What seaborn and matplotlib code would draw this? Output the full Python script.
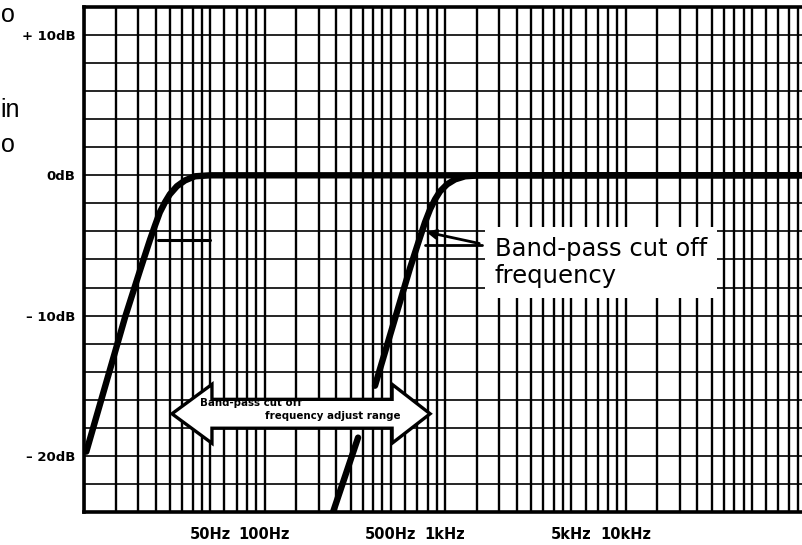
import numpy as np
import pandas as pd
import matplotlib
matplotlib.use("Agg")
import matplotlib.pyplot as plt
from matplotlib.patches import Polygon
import seaborn as sns

# curve: low band-pass setting
low_freq = [10.3, 16.9, 20.4, 23.2, 24.7, 26.3, 28.1, 29.9, 32.7, 36.3, 41.2, 49.9, 96000]
low_db = [-19.7, -10.1, -6.8, -4.6, -3.6, -2.64, -1.92, -1.35, -0.78, -0.36, -0.07, 0.0, 0.0]

# high band-pass setting (line is broken where the range arrow sits)
high_freq_lower = [239.6, 329.6]
high_db_lower = [-24.0, -18.7]
high_freq = [409, 640, 727, 774, 826, 880, 938, 1026, 1136, 1291, 1563, 96000]
high_db = [-15.0, -6.6, -4.4, -3.35, -2.42, -1.71, -1.14, -0.64, -0.29, -0.07, 0.0, 0.0]

# axis labels
x_ticks = [50, 100, 500, 1000, 5000, 10000]
x_labels = ["50Hz", "100Hz", "500Hz", "1kHz", "5kHz", "10kHz"]
y_ticks = [-20, -10, 0, 10]
y_labels = ["\u2013 20dB", "\u2013 10dB", "0dB", "+ 10dB"]

# adjust range arrow ends (Hz) and level (dB)
range_lo, range_hi, range_db = 30.7, 826, -17.0

sns.set_style("white")
plt.rcParams["font.family"] = ["DejaVu Sans"]
plt.rcParams["text.color"] = "black"

fig = plt.figure(figsize=(8.03, 5.45), dpi=100)
ax = fig.add_axes([0.1046, 0.0606, 0.8954, 0.9266])
ax.set_xscale("log")
ax.set_xlim(10, 96000)
ax.set_ylim(-24, 12)

# log paper grid
mults = [1, 1.5, 2, 2.5, 3, 3.5, 4, 4.5, 5, 6, 7, 8, 9]
for dec in [10, 100, 1000, 10000]:
    for m in mults:
        ax.axvline(dec * m, color="black", lw=1.7, zorder=1)
for lev in range(-22, 12, 2):
    ax.axhline(lev, color="black", lw=1.2, zorder=1)

df_low = pd.DataFrame({"f": low_freq, "db": low_db})
df_hl = pd.DataFrame({"f": high_freq_lower, "db": high_db_lower})
df_hi = pd.DataFrame({"f": high_freq, "db": high_db})
for d in [df_low, df_hl, df_hi]:
    sns.lineplot(data=d, x="f", y="db", color="black", lw=4.6, ax=ax,
                 zorder=4, sort=False, estimator=None)

# leader lines to the cut off points
ax.plot([25.7, 50], [-4.6, -4.6], color="black", lw=2.2, zorder=4)
ax.plot([777, 1600], [-5.0, -5.0], color="black", lw=2.0, zorder=4)
ax.annotate("", xy=(760, -4.0), xytext=(1600, -4.9),
            arrowprops=dict(arrowstyle="-|>", color="black", lw=2.0,
                            mutation_scale=14), zorder=4)

ax.text(1880, -4.4, "Band-pass cut off\nfrequency", fontsize=17.5,
        va="top", ha="left", linespacing=1.15,
        zorder=6, bbox=dict(fc="white", ec="none", pad=7))

# double headed range arrow
head_lo = range_lo * 10 ** (40 / 180.5)
head_hi = range_hi / 10 ** (38 / 180.5)
bw, hw = 1.03, 2.1
pts = [(range_lo, range_db), (head_lo, range_db + hw), (head_lo, range_db + bw),
       (head_hi, range_db + bw), (head_hi, range_db + hw), (range_hi, range_db),
       (head_hi, range_db - hw), (head_hi, range_db - bw), (head_lo, range_db - bw),
       (head_lo, range_db - hw)]
ax.add_patch(Polygon(pts, closed=True, fc="white", ec="black", lw=2.4, zorder=5))
ax.text(44, -16.25, "Band-pass cut off", fontsize=7.4, fontweight="bold",
        va="center", ha="left", zorder=6)
ax.text(100, -17.15, "frequency adjust range", fontsize=7.4, fontweight="bold",
        va="center", ha="left", zorder=6)

ax.set_xticks(x_ticks)
ax.set_xticklabels(x_labels, fontsize=10.5, fontweight="bold")
ax.set_xticks([], minor=True)
ax.set_yticks(y_ticks)
ax.set_yticklabels(y_labels, fontsize=9.5, fontweight="bold")
ax.tick_params(axis="both", direction="out", length=5, width=1.5,
               color="black", labelcolor="black")
ax.tick_params(axis="x", pad=6)
ax.tick_params(axis="y", pad=1)
ax.set_xlabel("")
ax.set_ylabel("")
for s in ["top", "left", "bottom"]:
    ax.spines[s].set_linewidth(2.6)
    ax.spines[s].set_color("black")
ax.spines["right"].set_visible(False)

# page text fragments at the left margin
for y, t in [(0.972, "o"), (0.798, "in"), (0.734, "o")]:
    fig.text(0.001, y, t, fontsize=18, family="Liberation Sans",
             va="center", ha="left")

fig.savefig("out.png", dpi=100)
